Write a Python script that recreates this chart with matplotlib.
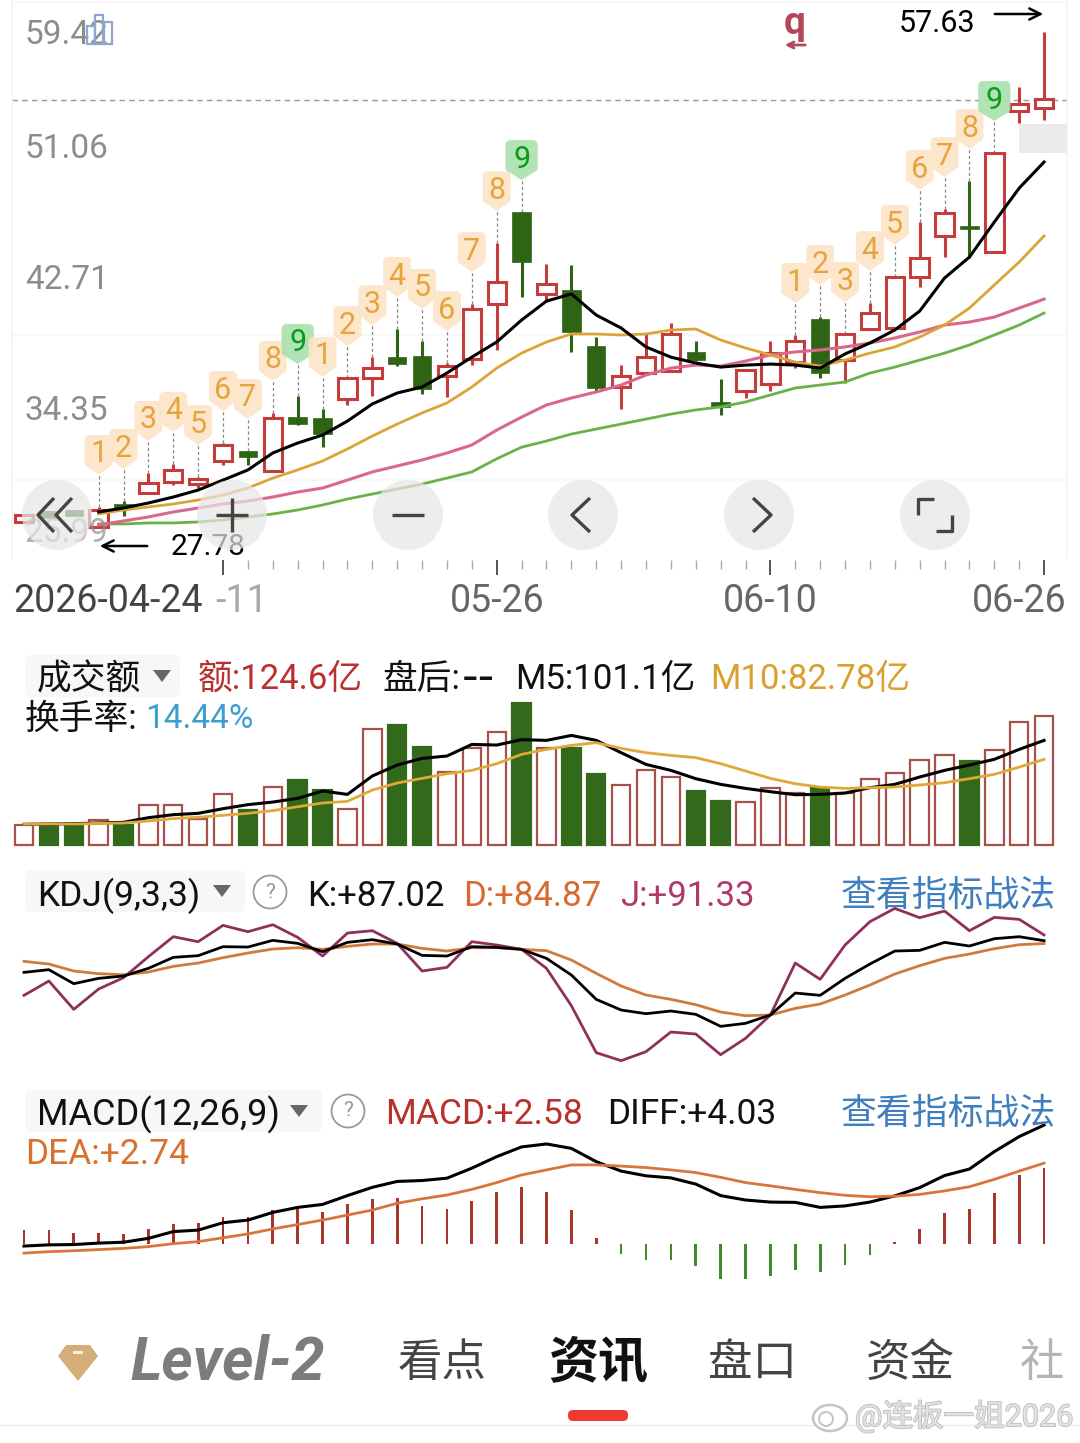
import numpy as np
import matplotlib
matplotlib.use('Agg')
import matplotlib.pyplot as plt
import matplotlib.patheffects as pe
from matplotlib.patches import Circle, FancyBboxPatch, PathPatch, Polygon, Rectangle, Ellipse
from matplotlib.path import Path
from matplotlib.transforms import Affine2D

plt.rcParams['font.family'] = ['Roboto', 'Noto Sans CJK SC', 'DejaVu Sans']

W, H = 1080, 1443

# candles, one per trading day
c_high = [28.57, 28.81, 28.87, 29.05, 29.41, 31.10, 31.64, 30.85, 32.90, 32.42, 34.71, 35.73, 34.95, 36.81,
          38.07, 39.76, 39.04, 37.71, 41.26, 44.93, 46.80, 43.67, 43.61, 39.28, 37.59, 39.52, 40.12, 39.04,
          36.75, 37.29, 39.04, 39.40, 40.48, 39.46, 41.32, 42.89, 46.20, 46.98, 48.66, 50.35, 54.32, 57.63]
c_low = [28.15, 28.39, 28.51, 27.78, 28.51, 29.89, 30.37, 30.19, 31.58, 31.58, 31.16, 33.98, 32.66, 35.19,
         35.73, 37.53, 35.85, 35.67, 37.59, 38.50, 41.68, 41.38, 38.38, 36.03, 34.95, 37.11, 37.23, 37.83,
         34.58, 35.61, 36.03, 37.41, 36.81, 36.51, 39.76, 39.82, 42.29, 44.09, 44.03, 44.39, 52.15, 52.34]
body_top = [28.57, 28.81, 28.87, 28.87, 29.23, 30.49, 31.28, 30.73, 32.78, 32.42, 34.40, 34.46, 34.40, 36.81,
            37.41, 38.07, 38.14, 37.53, 40.96, 42.59, 46.80, 42.47, 42.11, 38.74, 36.93, 38.07, 39.46, 38.38,
            35.37, 37.29, 38.31, 39.04, 40.36, 39.46, 40.72, 42.89, 44.03, 46.74, 45.96, 50.35, 53.30, 53.60]
body_bot = [28.15, 28.39, 28.51, 27.85, 28.93, 29.89, 30.55, 30.43, 31.82, 32.06, 31.22, 34.04, 33.44, 35.55,
            36.81, 37.65, 36.15, 36.93, 37.95, 41.26, 43.79, 41.87, 39.58, 36.21, 36.27, 37.11, 37.23, 37.89,
            35.07, 36.03, 36.45, 37.77, 37.11, 37.89, 39.76, 39.82, 42.89, 45.36, 45.78, 44.39, 52.88, 53.06]
# 1 = up day (hollow red), 0 = down day (solid green)
is_up = [1, 0, 0, 1, 0, 1, 1, 1, 1, 0, 1, 0, 0, 1, 1, 0, 0, 1, 1, 1, 0, 1, 0, 0, 1, 1, 1, 0,
         0, 1, 1, 1, 0, 1, 1, 1, 1, 1, 0, 1, 1, 1]
# sequence count shown above the candle, 0 = none
td_seq = [0, 0, 0, 1, 2, 3, 4, 5, 6, 7, 8, 9, 1, 2, 3, 4, 5, 6, 7, 8, 9,
          0, 0, 0, 0, 0, 0, 0, 0, 0, 0, 1, 2, 3, 4, 5, 6, 7, 8, 9, 0, 0]

# moving averages start at the fourth day
ma5 = [28.75, 28.99, 29.29, 29.65, 30.07, 30.67, 31.28, 32.30, 32.90, 33.38, 34.22, 35.25, 35.91, 36.27, 37.11,
       38.07, 38.98, 40.30, 41.44, 41.87, 40.60, 39.82, 38.68, 38.07, 37.71, 37.47, 37.59, 37.65, 37.59, 37.41,
       38.26, 38.92, 39.70, 40.84, 42.83, 44.09, 46.20, 48.24, 49.81]
ma10 = [28.63, 28.87, 29.05, 29.23, 29.47, 29.77, 30.19, 30.79, 31.28, 31.82, 32.54, 33.32, 34.04, 34.71, 35.31,
        36.27, 37.41, 38.31, 38.98, 39.46, 39.46, 39.40, 39.46, 39.70, 39.76, 39.10, 38.62, 38.20, 37.77, 37.53,
        37.89, 38.31, 38.68, 39.28, 40.00, 41.02, 42.41, 43.79, 45.36]
ma20 = [27.97, 28.21, 28.45, 28.75, 28.99, 29.23, 29.41, 29.65, 29.95, 30.19, 30.67, 31.16, 31.52, 31.88, 32.30,
        32.78, 33.68, 34.46, 35.19, 35.61, 35.97, 36.39, 36.99, 37.41, 37.59, 37.53, 37.83, 38.20, 38.38, 38.50,
        38.68, 38.92, 39.22, 39.58, 40.00, 40.18, 40.48, 41.02, 41.56]
ma30 = [28.03, 28.03, 28.09, 28.09, 28.15, 28.27, 28.45, 28.63, 28.87, 29.17, 29.53, 29.83, 30.13, 30.43, 30.79,
        31.16, 31.95, 32.65, 33.02, 33.44, 33.74, 34.04, 34.34, 34.64, 34.89, 35.07, 35.37, 35.79, 36.21, 36.39,
        36.57, 37.11, 37.47, 37.89, 38.31, 38.80, 39.40, 40.00, 40.72]
last_close_line = 53.54

# turnover, 100M
turnover = [19.0, 19.0, 19.0, 24.2, 19.3, 38.6, 38.6, 25.4, 49.3, 33.8, 56.0, 63.1, 52.8, 34.5, 112.1, 115.9, 94.7,
            70.8, 94.0, 109.5, 137.5, 94.0, 94.0, 68.3, 57.6, 72.5, 65.4, 52.2, 42.5, 41.2, 55.4, 50.6, 55.4, 50.6,
            63.4, 69.2, 82.4, 87.3, 81.1, 91.8, 118.8, 124.6]
m5 = [20.0, 20.3, 20.6, 21.3, 21.9, 26.4, 29.3, 30.6, 35.1, 39.0, 41.5, 45.1, 52.2, 48.9, 66.7, 77.3, 83.7, 86.0,
      97.2, 96.6, 101.8, 101.1, 105.9, 101.1, 89.2, 77.9, 72.1, 64.1, 58.6, 54.7, 51.5, 48.6, 48.9, 50.2, 55.4,
      58.6, 65.7, 72.1, 77.3, 82.8, 92.4, 101.1]
m10 = [20.0, 20.3, 20.3, 20.9, 21.3, 23.2, 25.5, 26.8, 28.7, 30.6, 33.2, 37.0, 40.6, 42.2, 53.1, 59.9, 64.4, 68.9,
       72.1, 78.6, 87.6, 92.4, 96.3, 98.9, 93.4, 89.2, 86.6, 84.4, 78.6, 71.5, 64.4, 59.2, 56.0, 54.7, 55.4, 56.0,
       58.0, 60.2, 64.1, 68.3, 75.3, 82.78]

kdj_k = [63.27, 65.27, 54.77, 58.77, 60.52, 66.27, 74.52, 75.77, 82.52, 82.27, 87.27, 85.02, 78.77, 85.77, 87.77,
         84.52, 76.02, 75.52, 82.52, 82.02, 80.52, 73.77, 61.27, 43.02, 35.02, 32.27, 34.27, 31.77, 22.77, 25.02,
         31.27, 47.77, 46.02, 58.77, 69.52, 79.27, 79.77, 85.77, 83.02, 88.52, 90.02, 87.02]
kdj_d = [71.52, 69.52, 64.27, 62.27, 61.52, 63.52, 67.77, 70.27, 74.27, 77.77, 80.77, 81.77, 80.52, 82.77, 84.52,
         84.52, 81.27, 79.27, 81.77, 81.77, 80.52, 79.52, 72.52, 62.52, 53.02, 46.27, 43.02, 39.02, 33.52, 30.77,
         31.27, 36.27, 39.52, 46.27, 53.77, 62.02, 68.27, 73.77, 77.02, 81.02, 84.02, 84.87]
kdj_j = [46.02, 56.77, 35.52, 50.77, 59.27, 75.02, 90.02, 86.27, 98.52, 93.77, 99.02, 89.52, 75.52, 92.77, 94.52,
         85.02, 64.27, 67.02, 86.27, 83.77, 80.52, 66.27, 38.27, 3.02, -2.98, 3.77, 18.52, 17.02, 1.52, 13.77,
         31.27, 70.27, 58.02, 83.77, 101.27, 111.27, 104.27, 109.27, 94.52, 104.52, 103.02, 91.33]

macd_hist = [0.47, 0.47, 0.36, 0.36, 0.34, 0.51, 0.69, 0.70, 0.92, 0.90, 1.14, 1.21, 1.07, 1.36, 1.53, 1.56, 1.29,
             1.18, 1.47, 1.75, 1.94, 1.76, 1.14, 0.20, -0.33, -0.55, -0.53, -0.75, -1.20, -1.20, -1.07, -0.87,
             -0.96, -0.71, -0.37, 0.08, 0.50, 1.04, 1.18, 1.74, 2.34, 2.58]
diff = [-0.07, -0.03, -0.02, 0.03, 0.06, 0.19, 0.42, 0.47, 0.72, 0.81, 1.07, 1.24, 1.34, 1.64, 1.92, 2.12, 2.15,
        2.23, 2.57, 2.96, 3.29, 3.39, 3.24, 2.79, 2.47, 2.31, 2.24, 2.03, 1.64, 1.49, 1.42, 1.41, 1.24, 1.29,
        1.42, 1.63, 1.91, 2.32, 2.54, 3.13, 3.64, 4.03]
dea = [-0.31, -0.26, -0.23, -0.19, -0.15, -0.09, 0.01, 0.08, 0.21, 0.34, 0.51, 0.66, 0.81, 0.98, 1.15, 1.38, 1.53,
       1.66, 1.85, 2.08, 2.34, 2.51, 2.68, 2.68, 2.64, 2.59, 2.51, 2.42, 2.26, 2.08, 1.97, 1.85, 1.74, 1.65, 1.60,
       1.62, 1.68, 1.80, 1.94, 2.19, 2.47, 2.74]

price_labels = ['59.42', '51.06', '42.71', '34.35', '25.99']
date_labels = ['2026-04-24', '-11', '05-26', '06-10', '06-26']

RED = '#c43c3c'
GREEN = '#2f6415'
GOLD = '#dba437'
BLUE = '#3f7fbf'
days = np.arange(len(c_high))
ma_days = days[3:]


def panel(top, bottom, ylim):
    # one price pane, placed by its pixel rows; every pane shares the day scale
    ax = fig.add_axes([0, 1 - bottom / H, 1, (bottom - top) / H])
    ax.set_xlim(-24 / 24.88, (W - 24) / 24.88)
    ax.set_ylim(*ylim)
    ax.patch.set_visible(False)
    for s in ax.spines.values():
        s.set_visible(False)
    ax.set_xticks([])
    ax.set_yticks([])
    return ax


fig = plt.figure(figsize=(W / 100, H / 100), dpi=100)

# main pane
ax = panel(0, 560, (25.86, 59.56))
ax.axhline(last_close_line, xmin=0.011, xmax=0.988, color='#999999', lw=1, ls=(0, (4, 3)), zorder=1)
ax.axhline(39.4, xmin=0.011, xmax=0.988, color='#f8f8f8', lw=1.5, zorder=0)
ax.axhline(30.7, xmin=0.011, xmax=0.988, color='#f8f8f8', lw=1.5, zorder=0)
for i in days:
    col = RED if is_up[i] else GREEN
    ax.vlines(i, c_low[i], c_high[i], color=col, lw=2.2, zorder=2)
    ax.bar(i, body_top[i] - body_bot[i], bottom=body_bot[i], width=0.74,
           facecolor='white' if is_up[i] else col, edgecolor=col,
           linewidth=2.2 if is_up[i] else 0.5, zorder=3)
ax.plot(ma_days, ma30, color='#6cb04a', lw=2, zorder=4)
ax.plot(ma_days, ma20, color='#d9688a', lw=2.2, zorder=4)
ax.plot(ma_days, ma10, color=GOLD, lw=2, zorder=4)
ax.plot(ma_days, ma5, color='black', lw=2.2, zorder=4)

ax.set_xticks(days[8:], minor=True)
ax.set_xticks([8, 19, 30, 41])
ax.set_xticklabels([])
ax.tick_params(axis='x', which='minor', length=6.5, width=1, color='#aaaaaa')
ax.tick_params(axis='x', which='major', length=11, width=1.4, color='#555555')

# count flags sit a fixed distance above each high
flag_verts = [(-9, 19), (9, 19), (14, 19), (14, 14), (14, -9), (14, -12), (11, -13), (0, -21),
              (-11, -13), (-14, -12), (-14, -9), (-14, 14), (-14, 19), (-9, 19), (-9, 19)]
flag_codes = [Path.MOVETO, Path.LINETO, Path.CURVE3, Path.CURVE3, Path.LINETO, Path.CURVE3, Path.CURVE3, Path.LINETO,
              Path.LINETO, Path.CURVE3, Path.CURVE3, Path.LINETO, Path.CURVE3, Path.CURVE3, Path.CLOSEPOLY]
flag_path = Path(flag_verts, flag_codes)
for i in days:
    n = td_seq[i]
    if n == 0:
        continue
    px, py = ax.transData.transform((i, c_high[i]))
    ax.plot([i, i], [c_high[i], c_high[i] + 32 * 0.06017], color='#888888', lw=0.9, ls=(0, (2.5, 2)), zorder=2)
    tr = Affine2D().scale(1.15 if n == 9 else 1.0, 1).translate(px, py + 53)
    ax.add_patch(PathPatch(flag_path, transform=tr, zorder=5, lw=0,
                           facecolor='#a9e0ad' if n == 9 else '#fce5c8', alpha=0.9, clip_on=False))
    ax.annotate(str(n), (i, c_high[i]), xytext=(0, 53 * 0.72), textcoords='offset points', ha='center',
                va='center', fontsize=22, color='#0a9a1e' if n == 9 else '#e8a33d', zorder=6)

# turnover pane
ax_v = panel(690, 845, (0, 149.8))
for i in days:
    ax_v.bar(i, turnover[i], width=0.74, clip_on=False,
             facecolor='white' if is_up[i] else '#33691a',
             edgecolor='#a8504a' if is_up[i] else '#33691a', linewidth=1.6)
ax_v.plot(days, m5, color='black', lw=2.2)
ax_v.plot(days, m10, color='#e0a838', lw=2)

# KDJ pane
ax_k = panel(900, 1070, (-9.98, 117.55))
ax_k.plot(days, kdj_j, color='#8e2f5c', lw=2)
ax_k.plot(days, kdj_d, color='#d07a3c', lw=2)
ax_k.plot(days, kdj_k, color='black', lw=2)

# MACD pane
ax_m = panel(1100, 1290, (-1.56, 4.88))
hist_colors = ['#a8342c' if v >= 0 else '#3f8a2a' for v in macd_hist]
ax_m.bar(days, macd_hist, width=0.11, color=hist_colors)
ax_m.plot(days, diff, color='black', lw=2.2, zorder=3)
ax_m.plot(days, dea, color='#d9743c', lw=2, zorder=3)

# app chrome and texts, drawn in pixel rows on a cover layer
ui = fig.add_axes([0, 0, 1, 1], zorder=10)
ui.set_xlim(0, W)
ui.set_ylim(H, 0)
ui.axis('off')


def label(x, y, s, size=24, color='#111111', **kw):
    # glyphs sit about 3 px high of the anchor
    return ui.text(x, y + 3, s, fontsize=size, color=color, va='center', **kw)


def stroke(xs, ys, color='#444444', lw=2.4, z=7):
    ui.plot(xs, ys, color=color, lw=lw, zorder=z, solid_capstyle='butt')


# frame
stroke([12, 12], [0, 558], color='#f4f4f4', lw=1.2, z=0)
stroke([1067, 1067], [0, 558], color='#f4f4f4', lw=1.2, z=0)
stroke([12, 1067], [2, 2], color='#f6f6f6', lw=1.2, z=0)
ui.add_patch(Rectangle((1019, 124), 48, 29, facecolor='#ebebeb', lw=0, zorder=1))

for s, y, a in zip(price_labels, [32, 146, 277, 408, 530], [1, 1, 1, 1, 0.7]):
    label(25, y, s, size=24, color='#8c8c8c', alpha=a, zorder=2)

# bar icon next to the top price
for x0, y0, h0 in [(87, 26, 18), (95, 15, 29), (104, 22, 22)]:
    ui.add_patch(Rectangle((x0, y0), 8, h0, fill=False, edgecolor='#8ea6d2', lw=1.6, zorder=3))

label(795, 20, 'q', size=28, color='#b5475a', ha='center', fontweight='bold', zorder=3)
ui.annotate('', xy=(782, 45), xytext=(808, 45),
            arrowprops=dict(arrowstyle='->', color='#b5475a', lw=2, mutation_scale=11))
label(899, 20, '57.63', size=22, color='black', zorder=3)
ui.annotate('', xy=(1046, 14), xytext=(992, 14), arrowprops=dict(arrowstyle='->', color='black', lw=1.8, mutation_scale=20))
label(171, 544, '27.78', size=21.5, color='black', zorder=3)
ui.annotate('', xy=(97, 546), xytext=(150, 546), arrowprops=dict(arrowstyle='->', color='black', lw=1.8, mutation_scale=20))

# zoom and pan buttons
for cx in [57, 232, 408, 583, 759, 935]:
    ui.add_patch(Circle((cx, 515), 35, facecolor='#e6e6e6', alpha=0.72, lw=0, zorder=5))
stroke([54, 38, 54], [498, 515, 532])
stroke([72, 56, 72], [498, 515, 532])
stroke([216, 248], [515, 515])
stroke([232, 232], [498, 532])
stroke([392, 424], [515, 515])
stroke([590, 572, 590], [498, 515, 532])
stroke([753, 771, 753], [498, 515, 532])
stroke([934, 918, 918], [499, 499, 515])
stroke([936, 952, 952], [531, 531, 515])

for x, s, c, ha in [(13, date_labels[0], '#444444', 'left'), (215, date_labels[1], '#a8a8a8', 'left'),
                    (497, date_labels[2], '#666666', 'center'), (770, date_labels[3], '#666666', 'center'),
                    (1067, date_labels[4], '#666666', 'right')]:
    label(x, 599, s, size=27, color=c, ha=ha)


def dropdown(x0, y0, x1, y1, tx):
    ui.add_patch(FancyBboxPatch((x0, y0), x1 - x0, y1 - y0, boxstyle='round,pad=0,rounding_size=6',
                                facecolor='#f6f7f7', lw=0, zorder=0))
    ui.add_patch(Polygon([(tx - 9, (y0 + y1) / 2 - 6), (tx + 9, (y0 + y1) / 2 - 6), (tx, (y0 + y1) / 2 + 6)],
                         facecolor='#666666', lw=0))


def helpmark(cx, cy):
    ui.add_patch(Circle((cx, cy), 16.5, fill=False, edgecolor='#999999', lw=1.3))
    label(cx, cy - 3, '?', size=15, color='#999999', ha='center')


# turnover header
dropdown(25, 655, 180, 697, 162)
label(37, 677, '成交额', size=25)
label(198, 676, '额:124.6亿', size=25, color='#b8312f')
label(382, 676, '盘后:', size=25)
label(462, 676, '--', size=33, family='DejaVu Sans')
label(515, 676, 'M5:101.1亿', size=25)
label(710, 676, 'M10:82.78亿', size=25, color='#d9a030')
label(25, 716, '换手率:', size=25)
label(145, 716, '14.44%', size=24, color='#3d9fd0')

# KDJ header
dropdown(25, 870, 245, 912, 222)
helpmark(270, 892)
label(37, 893, 'KDJ(9,3,3)', size=25.5)
label(307, 893, 'K:+87.02', size=25)
label(463, 893, 'D:+84.87', size=25, color='#d9692f')
label(620, 893, 'J:+91.33', size=25, color='#b0386a')
label(841, 893, '查看指标战法', size=25.8, color=BLUE)

# MACD header
dropdown(25, 1090, 322, 1132, 299)
helpmark(348, 1111)
label(37, 1112, 'MACD(12,26,9)', size=26)
label(385, 1111, 'MACD:+2.58', size=25.5, color='#b8312f')
label(607, 1111, 'DIFF:+4.03', size=25.5)
label(841, 1111, '查看指标战法', size=25.8, color=BLUE)
label(25, 1152, 'DEA:+2.74', size=25.5, color='#d9702f')

# bottom tabs
ui.add_patch(Polygon([(66, 1345), (90, 1345), (98, 1356), (78, 1381), (58, 1356)], facecolor='#d4ae78', lw=0))
ui.add_patch(Rectangle((73, 1351), 10, 3, facecolor='#f8ecd8', lw=0))
label(130, 1359, 'Level-2', size=43, color='#7c7c7c', fontweight='bold', fontstyle='italic')
label(442, 1361, '看点', size=32, color='#444444', ha='center')
label(598, 1361, '资讯', size=36, color='#111111', ha='center', fontweight='bold')
label(753, 1361, '盘口', size=32, color='#444444', ha='center')
label(910, 1361, '资金', size=32, color='#444444', ha='center')
label(1042, 1361, '社', size=32, color='#b5b5b5', ha='center')
ui.add_patch(FancyBboxPatch((568, 1410), 60, 11, boxstyle='round,pad=0,rounding_size=5', facecolor='#ee3b2f', lw=0))
stroke([0, 1080], [1425, 1425], color='#eeeeee', lw=1, z=0)

# watermark
ui.add_patch(Ellipse((830, 1418), 34, 26, facecolor='white', edgecolor='#c4c4c4', lw=1.8))
ui.add_patch(Circle((826, 1419), 7, facecolor='white', edgecolor='#c4c4c4', lw=1.4))
wm = label(855, 1413, '@连板一姐2026', size=22, color='#e2e2e2')
wm.set_path_effects([pe.withStroke(linewidth=1.2, foreground='#bdbdbd')])

fig.savefig('out.png', dpi=100)
